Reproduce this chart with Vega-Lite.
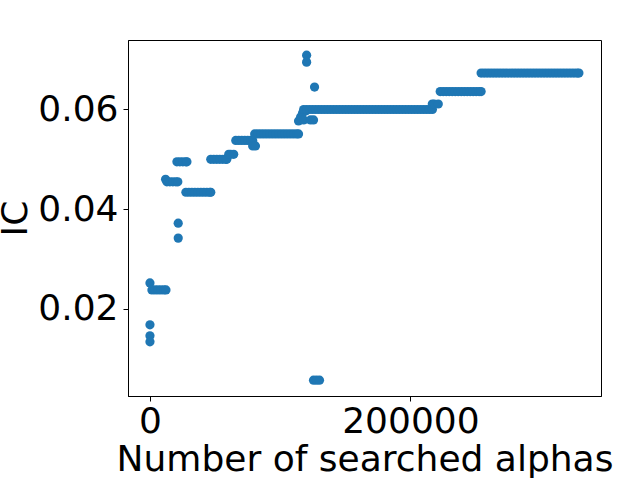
{
  "$schema": "https://vega.github.io/schema/vega-lite/v6.json",
  "width": 473,
  "height": 356,
  "autosize": {"type": "none"},
  "padding": {"left": 128, "top": 40, "right": 39, "bottom": 84},
  "background": "white",
  "config": {
    "view": {"stroke": "black", "strokeWidth": 1},
    "axis": {
      "grid": false,
      "domainColor": "black",
      "tickColor": "black",
      "tickSize": 5,
      "labelFont": "DejaVu Sans",
      "labelFontSize": 36,
      "labelColor": "black",
      "titleFont": "DejaVu Sans",
      "titleFontSize": 36,
      "titleFontWeight": "normal",
      "titleColor": "black"
    }
  },
  "data": {
    "values": [
      {"n": 0, "ic": 0.0252}, {"n": 0, "ic": 0.0168}, {"n": 0, "ic": 0.0146}, {"n": 0, "ic": 0.0134},
      {"n": 1500, "ic": 0.0238}, {"n": 3800, "ic": 0.0238}, {"n": 6100, "ic": 0.0238}, {"n": 8400, "ic": 0.0238}, {"n": 10700, "ic": 0.0238}, {"n": 12300, "ic": 0.0238},
      {"n": 21700, "ic": 0.0372}, {"n": 21700, "ic": 0.0342},
      {"n": 12000, "ic": 0.046},
      {"n": 13000, "ic": 0.0455}, {"n": 15300, "ic": 0.0455}, {"n": 17600, "ic": 0.0455}, {"n": 19900, "ic": 0.0455}, {"n": 21400, "ic": 0.0455},
      {"n": 20700, "ic": 0.0495}, {"n": 23000, "ic": 0.0495}, {"n": 25300, "ic": 0.0495}, {"n": 27600, "ic": 0.0495}, {"n": 28400, "ic": 0.0495},
      {"n": 27600, "ic": 0.0434}, {"n": 29900, "ic": 0.0434}, {"n": 32200, "ic": 0.0434}, {"n": 34500, "ic": 0.0434}, {"n": 36800, "ic": 0.0434}, {"n": 39100, "ic": 0.0434}, {"n": 41400, "ic": 0.0434}, {"n": 43700, "ic": 0.0434}, {"n": 46000, "ic": 0.0434}, {"n": 46700, "ic": 0.0434},
      {"n": 46700, "ic": 0.05}, {"n": 49000, "ic": 0.05}, {"n": 51300, "ic": 0.05}, {"n": 53600, "ic": 0.05}, {"n": 55900, "ic": 0.05}, {"n": 58200, "ic": 0.05}, {"n": 59000, "ic": 0.05},
      {"n": 60500, "ic": 0.051}, {"n": 62000, "ic": 0.051}, {"n": 64300, "ic": 0.051},
      {"n": 65900, "ic": 0.0538}, {"n": 68200, "ic": 0.0538}, {"n": 70500, "ic": 0.0538}, {"n": 72800, "ic": 0.0538}, {"n": 75100, "ic": 0.0538}, {"n": 77400, "ic": 0.0538}, {"n": 78900, "ic": 0.0538},
      {"n": 78900, "ic": 0.0527}, {"n": 81000, "ic": 0.0527},
      {"n": 80400, "ic": 0.0551}, {"n": 82700, "ic": 0.0551}, {"n": 85000, "ic": 0.0551}, {"n": 87300, "ic": 0.0551}, {"n": 89600, "ic": 0.0551}, {"n": 91900, "ic": 0.0551}, {"n": 94200, "ic": 0.0551}, {"n": 96500, "ic": 0.0551}, {"n": 98800, "ic": 0.0551}, {"n": 101100, "ic": 0.0551}, {"n": 103400, "ic": 0.0551}, {"n": 105700, "ic": 0.0551}, {"n": 108000, "ic": 0.0551}, {"n": 110300, "ic": 0.0551}, {"n": 112600, "ic": 0.0551}, {"n": 114100, "ic": 0.0551},
      {"n": 114100, "ic": 0.0577}, {"n": 115700, "ic": 0.0585}, {"n": 117200, "ic": 0.0593}, {"n": 119500, "ic": 0.0597}, {"n": 118000, "ic": 0.0579}, {"n": 123300, "ic": 0.0579}, {"n": 125600, "ic": 0.0579},
      {"n": 120300, "ic": 0.0709}, {"n": 120300, "ic": 0.0695}, {"n": 126400, "ic": 0.0645},
      {"n": 125600, "ic": 0.0057}, {"n": 127900, "ic": 0.0057}, {"n": 130200, "ic": 0.0057},
      {"n": 118000, "ic": 0.06}, {"n": 120300, "ic": 0.06}, {"n": 122600, "ic": 0.06}, {"n": 124900, "ic": 0.06}, {"n": 127200, "ic": 0.06}, {"n": 129500, "ic": 0.06}, {"n": 131800, "ic": 0.06}, {"n": 134100, "ic": 0.06}, {"n": 136400, "ic": 0.06}, {"n": 138700, "ic": 0.06}, {"n": 141000, "ic": 0.06}, {"n": 143300, "ic": 0.06}, {"n": 145600, "ic": 0.06}, {"n": 147900, "ic": 0.06}, {"n": 150200, "ic": 0.06}, {"n": 152500, "ic": 0.06}, {"n": 154800, "ic": 0.06}, {"n": 157100, "ic": 0.06}, {"n": 159400, "ic": 0.06}, {"n": 161700, "ic": 0.06}, {"n": 164000, "ic": 0.06}, {"n": 166300, "ic": 0.06}, {"n": 168600, "ic": 0.06}, {"n": 170900, "ic": 0.06}, {"n": 173200, "ic": 0.06}, {"n": 175500, "ic": 0.06}, {"n": 177800, "ic": 0.06}, {"n": 180100, "ic": 0.06}, {"n": 182400, "ic": 0.06}, {"n": 184700, "ic": 0.06}, {"n": 187000, "ic": 0.06}, {"n": 189300, "ic": 0.06}, {"n": 191600, "ic": 0.06}, {"n": 193900, "ic": 0.06}, {"n": 196200, "ic": 0.06}, {"n": 198500, "ic": 0.06}, {"n": 200800, "ic": 0.06}, {"n": 203100, "ic": 0.06}, {"n": 205400, "ic": 0.06}, {"n": 207700, "ic": 0.06}, {"n": 210000, "ic": 0.06}, {"n": 212300, "ic": 0.06}, {"n": 214600, "ic": 0.06}, {"n": 216900, "ic": 0.06},
      {"n": 216800, "ic": 0.0611}, {"n": 218300, "ic": 0.0611}, {"n": 221400, "ic": 0.0611},
      {"n": 222900, "ic": 0.0636}, {"n": 225200, "ic": 0.0636}, {"n": 227500, "ic": 0.0636}, {"n": 229800, "ic": 0.0636}, {"n": 232100, "ic": 0.0636}, {"n": 234400, "ic": 0.0636}, {"n": 236700, "ic": 0.0636}, {"n": 239000, "ic": 0.0636}, {"n": 241300, "ic": 0.0636}, {"n": 243600, "ic": 0.0636}, {"n": 245900, "ic": 0.0636}, {"n": 248200, "ic": 0.0636}, {"n": 250500, "ic": 0.0636}, {"n": 252800, "ic": 0.0636}, {"n": 254300, "ic": 0.0636},
      {"n": 254300, "ic": 0.0673}, {"n": 256600, "ic": 0.0673}, {"n": 258900, "ic": 0.0673}, {"n": 261200, "ic": 0.0673}, {"n": 263500, "ic": 0.0673}, {"n": 265800, "ic": 0.0673}, {"n": 268100, "ic": 0.0673}, {"n": 270400, "ic": 0.0673}, {"n": 272700, "ic": 0.0673}, {"n": 275000, "ic": 0.0673}, {"n": 277300, "ic": 0.0673}, {"n": 279600, "ic": 0.0673}, {"n": 281900, "ic": 0.0673}, {"n": 284200, "ic": 0.0673}, {"n": 286500, "ic": 0.0673}, {"n": 288800, "ic": 0.0673}, {"n": 291100, "ic": 0.0673}, {"n": 293400, "ic": 0.0673}, {"n": 295700, "ic": 0.0673}, {"n": 298000, "ic": 0.0673}, {"n": 300300, "ic": 0.0673}, {"n": 302600, "ic": 0.0673}, {"n": 304900, "ic": 0.0673}, {"n": 307200, "ic": 0.0673}, {"n": 309500, "ic": 0.0673}, {"n": 311800, "ic": 0.0673}, {"n": 314100, "ic": 0.0673}, {"n": 316400, "ic": 0.0673}, {"n": 318700, "ic": 0.0673}, {"n": 321000, "ic": 0.0673}, {"n": 323300, "ic": 0.0673}, {"n": 325600, "ic": 0.0673}, {"n": 327900, "ic": 0.0673}, {"n": 329400, "ic": 0.0673}
    ]
  },
  "mark": {"type": "point", "filled": true, "shape": "circle", "size": 85, "color": "#1f77b4", "opacity": 1, "strokeWidth": 0},
  "encoding": {
    "x": {
      "field": "n",
      "type": "quantitative",
      "scale": {"domain": [-16860, 346370], "nice": false, "zero": false},
      "axis": {"title": "Number of searched alphas", "values": [0, 200000], "format": "d", "labelPadding": 3, "titlePadding": 3}
    },
    "y": {
      "field": "ic",
      "type": "quantitative",
      "scale": {"domain": [0.00253, 0.07394], "nice": false, "zero": false},
      "axis": {"title": "IC", "values": [0.02, 0.04, 0.06], "format": ".2f", "labelPadding": 5, "titlePadding": 3}
    }
  }
}
